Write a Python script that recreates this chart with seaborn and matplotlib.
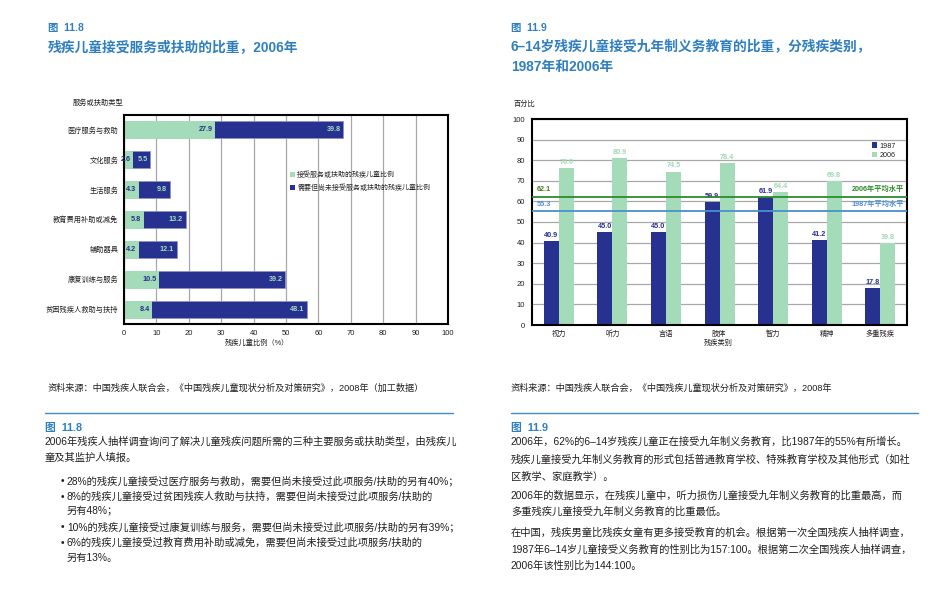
import matplotlib
matplotlib.use("Agg")
import matplotlib.pyplot as plt
import seaborn as sns
import pandas as pd
from matplotlib.patches import Patch
from matplotlib.lines import Line2D

# ---------------- data ----------------
services = ['医疗服务与救助', '文化服务', '生活服务', '教育费用补助或减免',
            '辅助器具', '康复训练与服务', '贫困残疾人救助与扶持']
received = [27.9, 2.6, 4.3, 5.8, 4.2, 10.5, 8.4]
unmet = [39.8, 5.5, 9.8, 13.2, 12.1, 39.2, 48.1]
x_ticks_left = [0, 10, 20, 30, 40, 50, 60, 70, 80, 90, 100]

disabilities = ['视力', '听力', '言语', '肢体', '智力', '精神', '多重残疾']
years = ['1987', '2006']
rate_1987 = [40.9, 45.0, 45.0, 59.9, 61.9, 41.2, 17.8]
rate_2006 = [76.0, 80.9, 74.5, 78.4, 64.4, 69.8, 39.8]
avg_1987 = 55.3
avg_2006 = 62.1
y_ticks_right = [0, 10, 20, 30, 40, 50, 60, 70, 80, 90, 100]

legend_left = ['接受服务或扶助的残疾儿童比例', '需要但尚未接受服务或扶助的残疾儿童比例']

# ---------------- style ----------------
sns.set_style("white")
FONT = ['Liberation Sans', 'Noto Sans CJK SC']
plt.rcParams['font.family'] = FONT

DARK = '#27318F'
LIGHT = '#A4DCB9'
TITLE_BLUE = '#2F7FC1'
TEXT = '#231F20'
GRID = '#A8A8A8'
GREEN_LINE = '#2E8B2E'
BLUE_LINE = '#4A8FD0'

W, H = 937, 593
fig = plt.figure(figsize=(W / 100, H / 100), dpi=100)
fig.patch.set_facecolor('white')


def box(x0, y0, x1, y1):
    return [x0 / W, 1 - y1 / H, (x1 - x0) / W, (y1 - y0) / H]


def ftext(x, y, s, **kw):
    kw.setdefault('va', 'center')
    kw.setdefault('ha', 'left')
    kw.setdefault('color', TEXT)
    fig.text(x / W, 1 - y / H, s, **kw)


# ---------------- left chart ----------------
axl = fig.add_axes(box(124, 115, 448, 324))
totals = [r + u for r, u in zip(received, unmet)]
dfl = pd.DataFrame({'service': services, 'received': received, 'total': totals})
sns.barplot(data=dfl, x='total', y='service', color=DARK, width=0.57,
            edgecolor='#8E93C8', linewidth=0.6, saturation=1, ax=axl, orient='h')
sns.barplot(data=dfl, x='received', y='service', color=LIGHT, width=0.57,
            edgecolor=LIGHT, linewidth=0.7, saturation=1, ax=axl, orient='h')
axl.set_xlim(0, 100)
axl.set_xticks(x_ticks_left)
axl.set_xticklabels([str(t) for t in x_ticks_left], fontsize=5.5, color=TEXT)
axl.tick_params(axis='y', labelsize=5.2, length=0, pad=4, colors=TEXT)
axl.tick_params(axis='x', length=0, pad=4)
axl.set_xlabel('')
axl.set_ylabel('')
axl.xaxis.grid(True, color=GRID, linewidth=0.9)
axl.set_axisbelow(True)
for sp in axl.spines.values():
    sp.set_visible(True)
    sp.set_color('black')
    sp.set_linewidth(1.5)
for i, (r, t, u) in enumerate(zip(received, totals, unmet)):
    axl.text(r - 0.5, i, f'{r:.1f}', ha='right', va='center', fontsize=5.2,
             fontweight='bold', color=DARK, clip_on=False)
    axl.text(t - 0.8, i, f'{u:.1f}', ha='right', va='center', fontsize=5.2,
             fontweight='bold', color=LIGHT)
hl = [Patch(facecolor=LIGHT, edgecolor='none'), Patch(facecolor=DARK, edgecolor='none')]
axl.legend(hl, legend_left, loc='upper left', bbox_to_anchor=(0.505, 0.745),
           frameon=False, fontsize=5, handlelength=0.7, handleheight=0.7,
           handletextpad=0.3, labelspacing=0.9, borderaxespad=0)

ftext(73, 103, '服务或扶助类型', fontsize=5.2)
ftext(257, 343, '残疾儿童比例（%）', fontsize=5.2, ha='center')

# ---------------- right chart ----------------
axr = fig.add_axes(box(532, 119, 907, 325))
dfr = pd.DataFrame({
    'cat': disabilities * 2,
    'value': rate_1987 + rate_2006,
    'year': [years[0]] * len(disabilities) + [years[1]] * len(disabilities),
})
sns.barplot(data=dfr, x='cat', y='value', hue='year', hue_order=years,
            palette=[DARK, LIGHT], width=0.56, saturation=1, linewidth=0,
            ax=axr, legend=False)
axr.set_ylim(0, 100)
axr.set_xlim(-0.5, len(disabilities) - 0.5)
axr.set_yticks(y_ticks_right)
axr.set_yticklabels([str(t) for t in y_ticks_right], fontsize=5.5, color=TEXT)
axr.tick_params(axis='x', labelsize=5.2, length=0, pad=4, colors=TEXT)
axr.tick_params(axis='y', length=0, pad=5)
axr.set_xlabel('')
axr.set_ylabel('')
axr.yaxis.grid(True, color=GRID, linewidth=0.9)
axr.set_axisbelow(True)
for sp in axr.spines.values():
    sp.set_visible(True)
    sp.set_color('black')
    sp.set_linewidth(1.5)
for cont, col in zip(axr.containers, [DARK, '#9FD8B4']):
    axr.bar_label(cont, fmt='%.1f', padding=1.5, fontsize=5.2,
                  fontweight='bold', color=col)

axr.axhline(avg_2006, color=GREEN_LINE, linewidth=1.3, zorder=3)
axr.axhline(avg_1987, color=BLUE_LINE, linewidth=1.3, zorder=3)
axr.text(-0.42, avg_2006 + 2.2, f'{avg_2006:.1f}', fontsize=5.2, fontweight='bold',
         color='#4B7A1E', va='bottom')
axr.text(-0.42, avg_1987 + 1.5, f'{avg_1987:.1f}', fontsize=5.2, fontweight='bold',
         color=BLUE_LINE, va='bottom')
axr.text(6.45, avg_2006 + 2.2, '2006年平均水平', fontsize=5.2, fontweight='bold',
         color=GREEN_LINE, va='bottom', ha='right')
axr.text(6.45, avg_1987 + 1.5, '1987年平均水平', fontsize=5.2, fontweight='bold',
         color=BLUE_LINE, va='bottom', ha='right')
hr = [Patch(facecolor=DARK, edgecolor='none'), Patch(facecolor=LIGHT, edgecolor='none')]
axr.legend(hr, years, loc='upper left', bbox_to_anchor=(0.9, 0.9),
           frameon=False, fontsize=5.2, handlelength=0.7, handleheight=0.7,
           handletextpad=0.3, labelspacing=0.35, borderaxespad=0)

ftext(514, 104, '百分比', fontsize=5.2)
ftext(718, 343, '残疾类别', fontsize=5.2, ha='center')

# ---------------- titles ----------------
ftext(48, 28, '图  11.8', fontsize=7.5, color=TITLE_BLUE, fontweight='bold')
ftext(48, 47, '残疾儿童接受服务或扶助的比重，2006年', fontsize=9.9,
      color=TITLE_BLUE, fontweight='bold')
ftext(511, 28, '图  11.9', fontsize=7.5, color=TITLE_BLUE, fontweight='bold')
ftext(511, 47, '6–14岁残疾儿童接受九年制义务教育的比重，分残疾类别，', fontsize=9.9,
      color=TITLE_BLUE, fontweight='bold')
ftext(511, 67, '1987年和2006年', fontsize=9.9, color=TITLE_BLUE, fontweight='bold')

# ---------------- sources & separators ----------------
ftext(48, 388, '资料来源：中国残疾人联合会，《中国残疾儿童现状分析及对策研究》，2008年（加工数据）',
      fontsize=6.6)
ftext(511, 388, '资料来源：中国残疾人联合会，《中国残疾儿童现状分析及对策研究》，2008年',
      fontsize=6.6)
fig.add_artist(Line2D([45 / W, 453 / W], [1 - 413 / H, 1 - 413 / H],
                      color='#3F8AC8', linewidth=1.0))
fig.add_artist(Line2D([511 / W, 918 / W], [1 - 413 / H, 1 - 413 / H],
                      color='#3F8AC8', linewidth=1.0))

# ---------------- body text (left) ----------------
BODY = 7.4
ftext(45, 428, '图  11.8', fontsize=7.8, color=TITLE_BLUE, fontweight='bold')
ftext(45, 442, '2006年残疾人抽样调查询问了解决儿童残疾问题所需的三种主要服务或扶助类型，由残疾儿',
      fontsize=BODY)
ftext(45, 458, '童及其监护人填报。', fontsize=BODY)
bullets = [
    (481, '•', '28%的残疾儿童接受过医疗服务与救助，需要但尚未接受过此项服务/扶助的另有40%；'),
    (497, '•', '8%的残疾儿童接受过贫困残疾人救助与扶持，需要但尚未接受过此项服务/扶助的'),
    (511, '', '另有48%；'),
    (527, '•', '10%的残疾儿童接受过康复训练与服务，需要但尚未接受过此项服务/扶助的另有39%；'),
    (543, '•', '6%的残疾儿童接受过教育费用补助或减免，需要但尚未接受过此项服务/扶助的'),
    (558, '', '另有13%。'),
]
for y, b, s in bullets:
    if b:
        ftext(61, y, b, fontsize=BODY)
    ftext(67, y, s, fontsize=BODY)

# ---------------- body text (right) ----------------
ftext(511, 428, '图  11.9', fontsize=7.8, color=TITLE_BLUE, fontweight='bold')
right_lines = [
    (442, '2006年，62%的6–14岁残疾儿童正在接受九年制义务教育，比1987年的55%有所增长。'),
    (460, '残疾儿童接受九年制义务教育的形式包括普通教育学校、特殊教育学校及其他形式（如社'),
    (477, '区教学、家庭教学）。'),
    (496, '2006年的数据显示，在残疾儿童中，听力损伤儿童接受九年制义务教育的比重最高，而'),
    (512, '多重残疾儿童接受九年制义务教育的比重最低。'),
    (533, '在中国，残疾男童比残疾女童有更多接受教育的机会。根据第一次全国残疾人抽样调查，'),
    (550, '1987年6–14岁儿童接受义务教育的性别比为157:100。根据第二次全国残疾人抽样调查，'),
    (566, '2006年该性别比为144:100。'),
]
for y, s in right_lines:
    ftext(511, y, s, fontsize=BODY)

fig.savefig('out.png', dpi=100, facecolor='white')
